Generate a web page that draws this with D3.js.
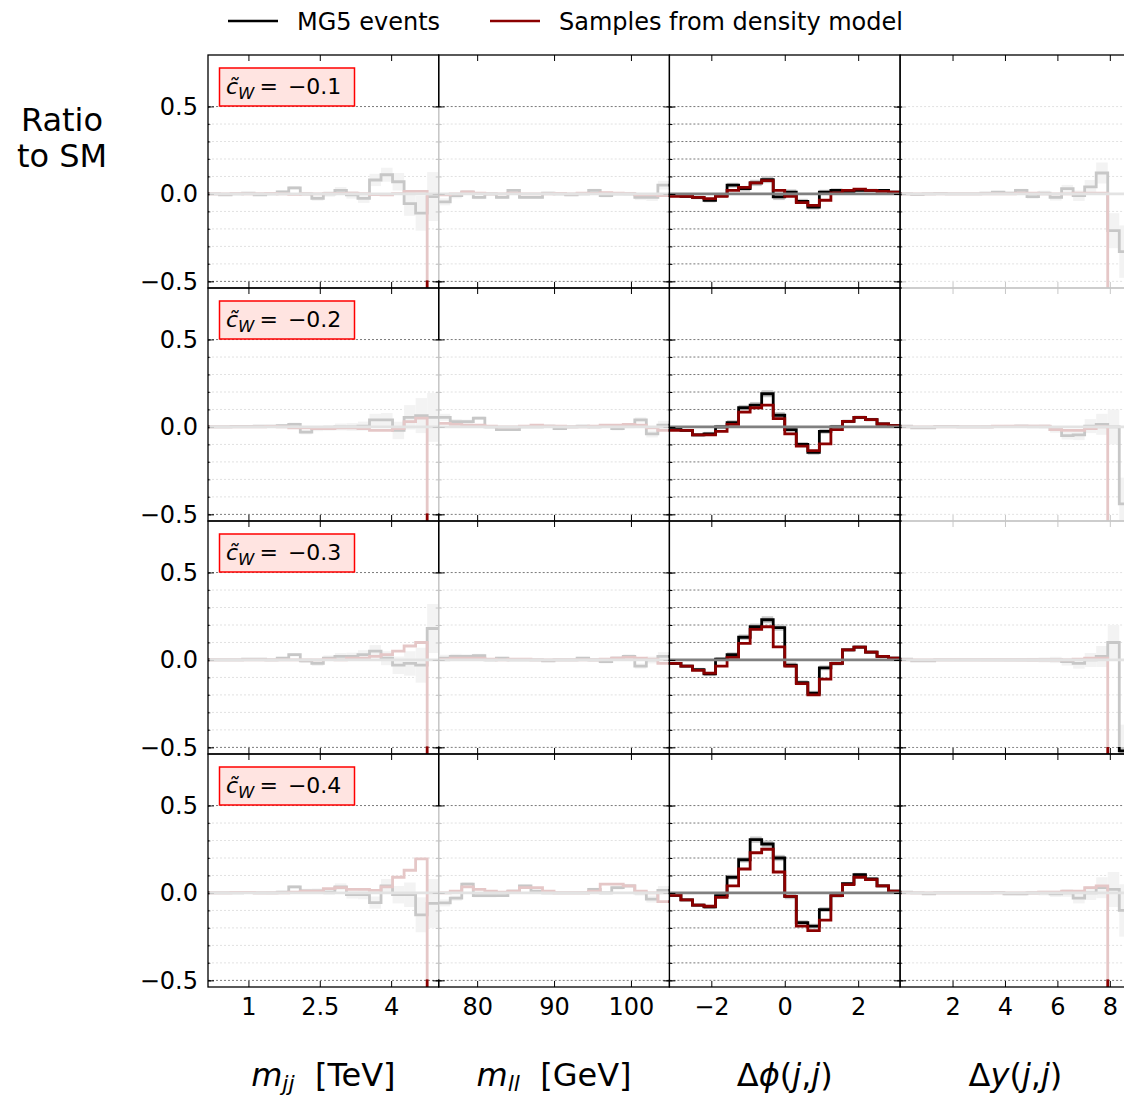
<!DOCTYPE html>
<html>
<head>
<meta charset="utf-8">
<script src="https://cdn.jsdelivr.net/npm/d3@7"></script>
<style>
  body { margin: 0; background: #fff; }
  text { font-family: "DejaVu Sans", sans-serif; fill: #000; }
</style>
</head>
<body>
<svg id="chart" width="1124" height="1097"></svg>
<script>
/* DATA */

var rowLabels = ["\u22120.1", "\u22120.2", "\u22120.3", "\u22120.4"];

var mjjTicks = [1, 2.5, 4];
var mllTicks = [80, 90, 100];
var dphiTicks = [-2, 0, 2];
var dyTicks = [2, 4, 6, 8];
var yTicks = [-0.5, 0, 0.5];
var yMinor = [-0.5, -0.4, -0.3, -0.2, -0.1, 0, 0.1, 0.2, 0.3, 0.4, 0.5];

// ratio to SM per bin (20 bins), one row per c_W value, -1 = no events
var mjjMG5 = [
  [0, -0.005, 0, 0.005, -0.005, 0, 0.012, 0.035, 0, -0.025, 0, 0.02, -0.005, -0.025, 0.08, 0.11, 0.07, -0.055, -0.11, -0.015],
  [0, 0, 0.003, 0.003, 0.005, 0.005, 0.008, 0.015, -0.03, -0.01, -0.005, 0, 0, 0.005, 0.04, 0.04, -0.02, 0.055, 0.065, 0.055],
  [0, 0, 0, 0.005, 0.005, 0, 0.01, 0.03, -0.005, -0.02, 0.01, 0.02, 0.02, 0.03, 0.05, 0.01, -0.03, -0.02, -0.03, 0.18],
  [0, 0, 0, 0.003, 0, 0, 0.005, 0.035, 0.012, 0.012, 0.005, 0.035, -0.01, -0.01, -0.055, 0.04, -0.01, -0.01, -0.125, -0.06]
];
var mjjModel = [
  [0, 0, 0.002, 0, 0.002, 0.003, 0, -0.002, 0, 0, 0.002, 0.003, 0.005, 0.002, -0.003, -0.005, 0.002, 0.015, 0.015, -1],
  [0, 0, 0, 0, 0, 0.003, 0, -0.005, -0.005, -0.01, -0.01, -0.005, -0.005, -0.01, -0.02, -0.02, -0.01, 0.03, 0.05, -1],
  [0, 0, 0, 0, 0, 0, 0, 0, 0, 0, 0.005, 0, 0.01, 0.01, 0.02, 0.03, 0.05, 0.08, 0.1, -1],
  [0, 0, 0.003, 0.003, 0, 0, 0, 0.005, 0.01, 0.01, 0.025, 0.03, 0.02, 0.02, 0.015, 0.035, 0.09, 0.13, 0.195, -1]
];
var mllMG5 = [
  [-0.045, -0.01, 0.01, -0.02, 0, -0.02, 0.02, -0.02, -0.02, 0.005, 0, -0.005, 0, 0.02, -0.01, 0, 0, -0.02, -0.02, 0.05],
  [0.055, 0.03, 0.03, 0.05, 0, -0.015, -0.015, 0, 0, 0.005, -0.01, 0, 0.005, 0, 0.005, -0.01, 0.005, 0.04, -0.04, 0.01],
  [0.01, 0.02, 0.02, 0.025, 0, 0.01, 0, 0, 0, -0.005, 0, 0, 0.01, 0, -0.01, 0.01, 0.02, -0.035, 0, 0.02],
  [-0.057, -0.03, 0.05, -0.015, -0.015, -0.015, 0.01, 0.04, 0.01, 0, 0, 0, 0, 0.02, 0, 0.03, 0.04, 0, -0.035, 0.015]
];
var mllModel = [
  [-0.005, 0, 0.012, 0.005, 0, 0, 0.005, 0, 0, 0, 0.003, 0, 0.005, 0.003, 0.008, 0.005, 0.002, -0.005, -0.005, -0.01],
  [0.02, 0.015, 0.01, 0.01, 0.005, 0, 0, 0.005, 0.01, 0.005, 0.005, 0, 0, 0.005, 0.01, 0.01, 0.015, 0.01, -0.005, -0.02],
  [0.005, 0.01, 0.01, 0.01, 0.005, 0, 0.005, 0.005, 0, 0, 0, 0, 0, 0, 0.005, 0.01, 0.015, 0.01, 0.005, -0.02],
  [0, 0.01, 0.035, 0.02, 0.01, 0.005, 0.01, 0.03, 0.03, 0.01, 0, 0, 0, 0.01, 0.05, 0.05, 0.04, 0.01, 0, -0.05]
];
var dphiMG5 = [
  [-0.01, -0.013, -0.02, -0.036, -0.01, 0.05, 0.03, 0.063, 0.082, -0.017, 0.01, -0.042, -0.075, 0.01, 0.02, 0.015, 0.02, 0.02, 0.02, 0.01],
  [-0.005, -0.02, -0.045, -0.04, 0, 0.025, 0.11, 0.125, 0.19, 0.067, -0.015, -0.1, -0.145, -0.025, 0, 0.032, 0.055, 0.042, 0.017, 0.007],
  [-0.02, -0.035, -0.055, -0.08, 0.005, 0.03, 0.13, 0.19, 0.23, 0.185, -0.03, -0.13, -0.19, -0.045, -0.02, 0.058, 0.073, 0.045, 0.02, 0.01],
  [-0.013, -0.04, -0.07, -0.08, -0.015, 0.09, 0.19, 0.305, 0.28, 0.2, -0.02, -0.17, -0.19, -0.095, -0.015, 0.053, 0.105, 0.08, 0.04, 0.01]
];
var dphiModel = [
  [-0.013, -0.013, -0.02, -0.027, -0.013, 0.02, 0.038, 0.063, 0.076, 0.02, -0.013, -0.05, -0.065, -0.036, 0.006, 0.02, 0.028, 0.02, 0.015, 0.01],
  [-0.02, -0.02, -0.045, -0.045, -0.025, 0.015, 0.085, 0.11, 0.125, 0.048, -0.04, -0.11, -0.135, -0.097, -0.015, 0.032, 0.055, 0.042, 0.017, 0.007],
  [-0.02, -0.035, -0.06, -0.075, -0.035, 0.015, 0.095, 0.175, 0.19, 0.075, -0.035, -0.135, -0.2, -0.11, -0.02, 0.058, 0.073, 0.045, 0.02, 0.01],
  [-0.013, -0.04, -0.07, -0.076, -0.025, 0.04, 0.137, 0.23, 0.25, 0.12, -0.02, -0.19, -0.215, -0.155, -0.015, 0.048, 0.09, 0.076, 0.04, 0.01]
];
var dyMG5 = [
  [0, -0.003, 0, 0.003, 0, 0, 0, 0.005, 0.01, 0.005, 0.02, -0.015, 0.005, -0.02, 0.03, -0.01, 0.04, 0.12, -0.21, -0.33],
  [0.005, -0.005, -0.005, 0.003, 0.003, 0, 0, 0, 0.003, 0.003, 0.005, 0.003, 0.003, -0.015, -0.05, -0.045, 0.005, 0.015, 0, -0.44],
  [0.005, -0.005, -0.005, 0, 0, 0, 0, 0, 0, 0, 0, 0, 0, 0, -0.01, -0.02, 0, 0.02, 0.1, -0.52],
  [0.005, 0, -0.005, 0, 0, 0, 0, 0, 0.003, -0.005, -0.005, 0, 0, -0.005, 0, -0.03, 0, 0.03, 0.02, -0.1]
];
var dyModel = [
  [0, 0, 0, 0, 0, 0, 0, 0, 0, 0, 0.005, 0.005, 0, 0, 0, 0.005, 0.005, 0.005, -1, -1],
  [0, 0, 0, 0, 0, 0, 0, 0, 0.005, 0.005, 0.005, 0.005, 0.005, -0.015, -0.02, -0.02, -0.01, 0, -1, -1],
  [0, 0, 0, 0, 0, 0, 0, 0, 0, 0, 0, 0, 0, 0, 0, 0.005, 0.01, 0.01, -1, -1],
  [0, 0, 0, 0, 0, 0, 0, 0, 0, 0, 0, 0, 0.005, 0.005, 0.01, 0.01, 0.03, 0.04, -1, -1]
];

// statistical uncertainty of MG5 ratio per bin
var mjjErr = [0.004, 0.004, 0.005, 0.005, 0.006, 0.007, 0.008, 0.01, 0.012, 0.014, 0.016, 0.02, 0.022, 0.026, 0.035, 0.04, 0.05, 0.07, 0.1, 0.14];
var mllErr = [0.02, 0.015, 0.012, 0.01, 0.01, 0.008, 0.008, 0.008, 0.008, 0.008, 0.008, 0.008, 0.008, 0.01, 0.01, 0.01, 0.012, 0.015, 0.02, 0.025];
var dphiErr = [0.008, 0.008, 0.01, 0.012, 0.012, 0.014, 0.016, 0.018, 0.02, 0.018, 0.016, 0.014, 0.014, 0.014, 0.012, 0.01, 0.01, 0.01, 0.008, 0.008];
var dyErr = [0.005, 0.005, 0.005, 0.005, 0.005, 0.006, 0.006, 0.007, 0.008, 0.009, 0.01, 0.012, 0.014, 0.018, 0.022, 0.03, 0.04, 0.06, 0.1, 0.15];

var columns = [
  { domain: [0.15, 5.0], ticks: mjjTicks, mg5: mjjMG5, model: mjjModel, err: mjjErr },
  { domain: [75, 105], ticks: mllTicks, mg5: mllMG5, model: mllModel, err: mllErr },
  { domain: [-Math.PI, Math.PI], ticks: dphiTicks, mg5: dphiMG5, model: dphiModel, err: dphiErr },
  { domain: [0, 8.8], ticks: dyTicks, mg5: dyMG5, model: dyModel, err: dyErr }
];

/* LAYOUT */

var left = 208, colW = 230.7, top0 = 55, rowH = 233;
var yDomain = [-0.538, 0.795];
var fmtX = d3.format("~g"), fmtY = d3.format(".1f");

var svg = d3.select('#chart');

var y = d3.scaleLinear().domain(yDomain).range([rowH, 0]);

var defs = svg.append('defs');
defs.append('clipPath').attr('id', 'panel-clip')
  .append('rect').attr('width', colW).attr('height', rowH);

columns.forEach(function(col, c) {
  var x = d3.scaleLinear().domain(col.domain).range([0, colW]);
  var step = (col.domain[1] - col.domain[0]) / col.err.length;

  for (var r = 0; r < 4; r++) {
    var g = svg.append('g')
      .attr('transform', 'translate(' + [left + c * colW, top0 + r * rowH] + ')');

    // grid
    g.selectAll('line.grid')
      .data(yMinor)
      .enter().append('line')
      .attr('class', 'grid')
      .attr('x1', 0).attr('x2', colW)
      .attr('y1', d => y(d)).attr('y2', d => y(d))
      .style('stroke', '#555')
      .style('stroke-width', 0.8)
      .style('stroke-dasharray', '2,2');

    var body = g.append('g').attr('clip-path', 'url(#panel-clip)');

    var bins = col.mg5[r].map((v, i) => ({
      x0: col.domain[0] + i * step,
      x1: col.domain[0] + (i + 1) * step,
      mg5: v, model: col.model[r][i], err: col.err[i]
    }));

    body.selectAll('rect.band')
      .data(bins)
      .enter().append('rect')
      .attr('class', 'band')
      .attr('x', d => x(d.x0))
      .attr('width', d => x(d.x1) - x(d.x0))
      .attr('y', d => y(d.mg5 + d.err))
      .attr('height', d => y(d.mg5 - d.err) - y(d.mg5 + d.err))
      .style('fill', '#c8c8c8');

    var stepLine = function(key) {
      var pts = bins.map(d => [d.x0, d[key]]);
      pts.push([bins[bins.length - 1].x1, bins[bins.length - 1][key]]);
      return d3.line()
        .x(d => x(d[0]))
        .y(d => y(Math.max(d[1], -0.6)))
        .curve(d3.curveStepAfter)(pts);
    };

    body.append('path')
      .attr('d', stepLine('mg5'))
      .style('fill', 'none').style('stroke', '#000').style('stroke-width', 2.8);

    body.append('path')
      .attr('d', stepLine('model'))
      .style('fill', 'none').style('stroke', '#8b0000').style('stroke-width', 2.8);

    body.append('line')
      .attr('x1', 0).attr('x2', colW)
      .attr('y1', y(0)).attr('y2', y(0))
      .style('stroke', '#808080').style('stroke-width', 2.8);

    // ticks, all pointing inward
    var axes = [
      d3.axisLeft(y).tickValues(yTicks).tickSize(-6).tickPadding(10).tickFormat(c === 0 ? fmtY : ''),
      d3.axisLeft(y).tickValues(yMinor).tickSize(-3).tickFormat(''),
      d3.axisRight(y).tickValues(yTicks).tickSize(-6).tickFormat(''),
      d3.axisRight(y).tickValues(yMinor).tickSize(-3).tickFormat(''),
      d3.axisTop(x).tickValues(col.ticks).tickSize(-6).tickFormat(''),
      d3.axisBottom(x).tickValues(col.ticks).tickSize(-6).tickPadding(11).tickFormat(r === 3 ? fmtX : '')
    ];
    axes.forEach(function(ax, k) {
      var a = g.append('g').call(ax);
      if (k === 2 || k === 3) a.attr('transform', 'translate(' + colW + ',0)');
      if (k === 5) a.attr('transform', 'translate(0,' + rowH + ')');
      a.select('.domain').remove();
      a.selectAll('.tick line').style('stroke', '#000').style('stroke-width', 1);
      a.selectAll('text').style('font-size', '24px').style('font-family', '"DejaVu Sans", sans-serif').style('fill', '#000');
    });

    g.append('rect')
      .attr('width', colW).attr('height', rowH)
      .style('fill', 'none').style('stroke', '#000').style('stroke-width', 1.3);
  }
});

/* FADE over the non-highlighted observables */

var fade = svg.append('g');
for (var r = 0; r < 4; r++) {
  var t = top0 + r * rowH;
  fade.append('rect')
    .attr('x', left + 1.5).attr('y', t + y(0.5) + 1)
    .attr('width', 2 * colW - 2.5).attr('height', y(-0.5) - y(0.5) - 2)
    .style('fill', '#fff').style('opacity', 0.78);
}
fade.append('rect')
  .attr('x', left + 3 * colW + 1.5).attr('y', top0 + 7)
  .attr('width', 300).attr('height', 3 * rowH - 14)
  .style('fill', '#fff').style('opacity', 0.78);
fade.append('rect')
  .attr('x', left + 3 * colW + 1.5).attr('y', top0 + 3 * rowH + y(0.5) + 1)
  .attr('width', 300).attr('height', y(-0.5) - y(0.5) - 2)
  .style('fill', '#fff').style('opacity', 0.78);

/* ROW LABELS */

rowLabels.forEach(function(lab, r) {
  var t = top0 + r * rowH;
  svg.append('rect')
    .attr('x', left + 11.5).attr('y', t + 13)
    .attr('width', 135).attr('height', 38)
    .style('fill', '#ffe4e1').style('stroke', '#ff0000').style('stroke-width', 1.5);
  var txt = svg.append('text')
    .attr('x', left + 18).attr('y', t + 38.5)
    .style('font-size', '22px');
  txt.append('tspan').style('font-style', 'italic').text('c\u0303');
  txt.append('tspan').style('font-style', 'italic').style('font-size', '16.5px').attr('dy', 5).text('W');
  txt.append('tspan').attr('dy', -5).attr('dx', 5).text('=');
  txt.append('tspan').attr('dx', 10).text(lab);
});

/* AXIS TITLES */

svg.append('text').attr('x', 62).attr('y', 131).attr('text-anchor', 'middle')
  .style('font-size', '32px').text('Ratio');
svg.append('text').attr('x', 62).attr('y', 167).attr('text-anchor', 'middle')
  .style('font-size', '32px').text('to SM');

var xTitles = [
  [['m', 'i'], ['jj', 's'], ['  [TeV]', 'n']],
  [['m', 'i'], ['ll', 's'], ['  [GeV]', 'n']],
  [['\u0394', 'n'], ['\u03d5', 'i'], ['(', 'n'], ['j', 'i'], [',', 'n'], ['j', 'i'], [')', 'n']],
  [['\u0394', 'n'], ['y', 'i'], ['(', 'n'], ['j', 'i'], [',', 'n'], ['j', 'i'], [')', 'n']]
];
xTitles.forEach(function(parts, c) {
  var t = svg.append('text')
    .attr('x', left + (c + 0.5) * colW).attr('y', 1086)
    .attr('text-anchor', 'middle')
    .style('font-size', '32px')
    .attr('xml:space', 'preserve');
  var sub = false;
  parts.forEach(function(p) {
    var s = t.append('tspan').text(p[0]);
    if (p[1] === 'i') s.style('font-style', 'italic');
    if (p[1] === 's') { s.style('font-style', 'italic').style('font-size', '22px').attr('dy', 5); sub = true; }
    else if (sub) { s.attr('dy', -5); sub = false; }
  });
});

/* LEGEND */

var legend = [['MG5 events', '#000', 228], ['Samples from density model', '#8b0000', 490]];
legend.forEach(function(l) {
  svg.append('line')
    .attr('x1', l[2]).attr('x2', l[2] + 50).attr('y1', 21).attr('y2', 21)
    .style('stroke', l[1]).style('stroke-width', 2.5);
  svg.append('text').attr('x', l[2] + 69).attr('y', 29.5)
    .style('font-size', '24px').text(l[0]);
});
</script>
</body>
</html>
